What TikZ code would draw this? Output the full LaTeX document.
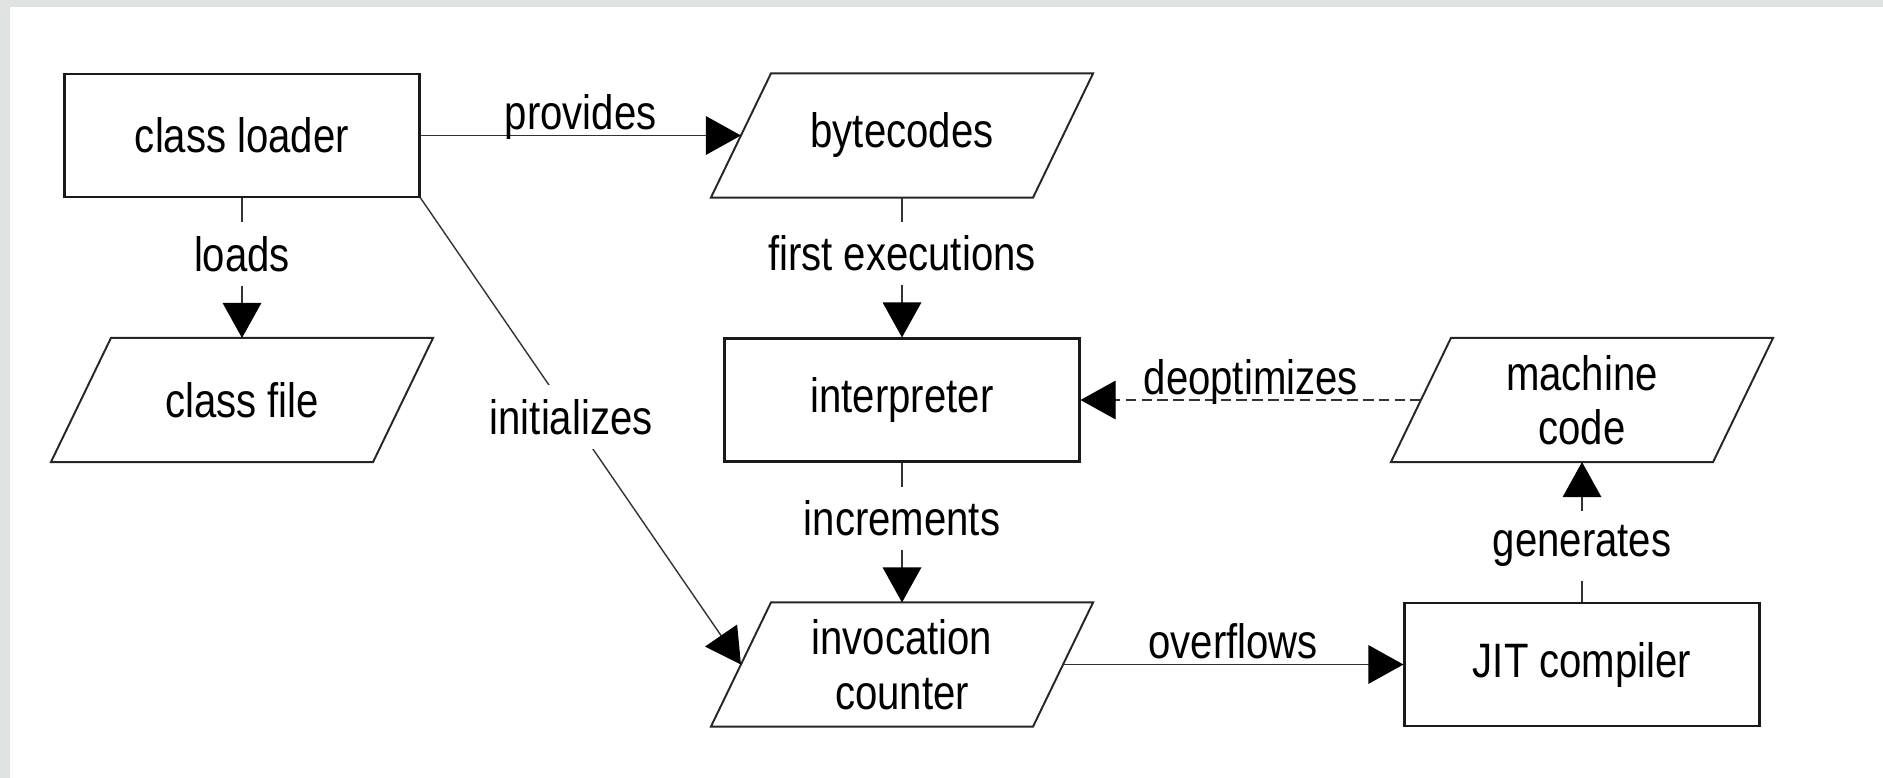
\documentclass[tikz,border=0pt]{standalone}
\usepackage{fontspec}
\setmainfont{Liberation Sans}[FakeStretch=0.83]
\usetikzlibrary{positioning,shapes.geometric,arrows.meta}
\definecolor{framegray}{RGB}{224,226,225}
% outline of a data node, slanted like a parallelogram
\newcommand\slab[1]{\draw[slabline] ([xshift=-0.6cm]#1.south west) -- ([xshift=-0.6cm]#1.south east)
  -- ([xshift=0.6cm]#1.north east) -- ([xshift=0.6cm]#1.north west) -- cycle;}
\begin{document}
\begin{tikzpicture}
            [main/.style ={draw=black!90,line width=1.2pt,minimum width=7.1cm,minimum height=2.46cm},
             data/.style ={minimum width=6.4cm,minimum height=2.44cm,outer sep=0.6pt,align=center},
             slabline/.style ={draw=black!85,line width=1.1pt},
             link/.style ={draw=black!80,line width=0.8pt},
             onlink/.style ={fill=white,inner sep=8pt,pos=0.4},
             overlink/.style ={above,inner sep=3pt,text depth=0pt},
             every node/.style ={font=\fontsize{27.5}{31}\selectfont},
             >={Triangle[length=20pt,width=22pt,color=black]},
             node distance=5.29cm]
            % frame
            \fill[framegray] (0,0) rectangle (37.66,-15.56);
            \fill[white] (0.2,-0.14) rectangle (37.66,-15.56);
            \useasboundingbox (0,0) rectangle (37.66,-15.56);
            \node[main] (loader) at (4.84,-2.71) {class loader};
            \node[data] (bytes)[right of = loader, node distance=13.2cm]{bytecodes};
            \node[data] (file)[below of = loader]{class file};
            \node[main] (interp)[below of = bytes]{interpreter};
            \node[data] (counter)[below of = interp]{invocation\\counter};
            \node[data] (machine)[right of = interp, node distance=13.6cm]{machine\\code};
            \node[main] (jit)[below of = machine]{JIT compiler};
            \slab{bytes} \slab{file} \slab{counter} \slab{machine}
            \draw[->,link] (loader) to node[overlink]{provides} (bytes) ;
            \draw[->,link] (loader) to node[onlink]{loads} (file) ;
            \draw[->,link] (loader.south east) to node[onlink,pos=0.47]{initializes} (counter.west) ;
            \draw[->,link] (bytes) to node[onlink]{first executions} (interp) ;
            \draw[->,link] (interp) to node[onlink]{increments} (counter) ;
            \draw[->,link] (counter) to node[overlink]{overflows} (jit) ;
            \draw[->,link] (jit) to node[onlink]{generates} (machine) ;
            \draw[->,link,dash pattern=on 6pt off 3pt] (machine) to node[overlink]{deoptimizes} (interp) ;
        \end{tikzpicture}
\end{document}
